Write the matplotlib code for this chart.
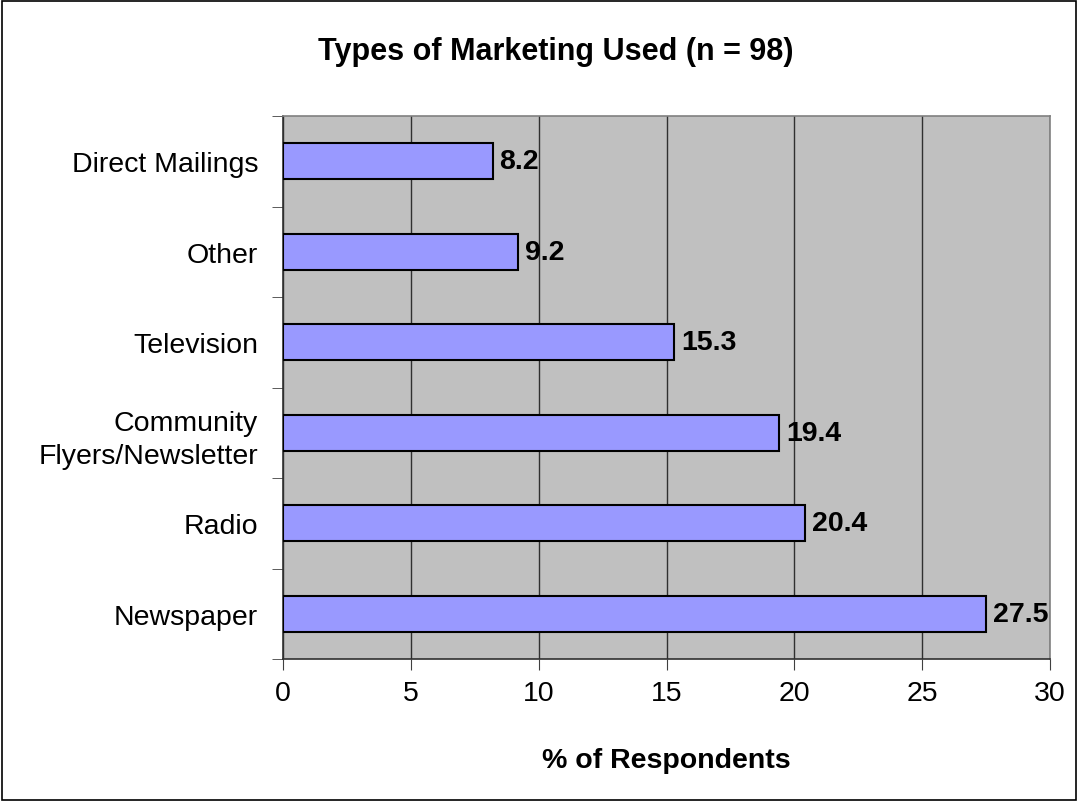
import matplotlib.pyplot as plt
import matplotlib.ticker as tkr
from matplotlib.patches import Rectangle

categories = ["Newspaper", "Radio", "Community\nFlyers/Newsletter", "Television", "Other", "Direct Mailings"]
values = [27.5, 20.4, 19.4, 15.3, 9.2, 8.2]
xticks = [0, 5, 10, 15, 20, 25, 30]

plt.rcParams['font.family'] = ['Liberation Sans', 'DejaVu Sans']

fig = plt.figure(figsize=(10.78, 8.03), dpi=100)
ax = fig.add_axes([283 / 1078, 1 - 660 / 803, (1050 - 283) / 1078, (660 - 117) / 803])

ax.set_facecolor("#C0C0C0")
pos = list(range(len(categories)))
ax.barh(pos, values, height=0.4, color="#9999FF", edgecolor="black", linewidth=1.5, zorder=3)

for p, v in zip(pos, values):
    ax.annotate("%.1f" % v, (v, p), xytext=(5, 0), textcoords="offset points",
                va="center", ha="left", fontsize=20.5, fontweight="bold", zorder=4)

ax.set_xlim(0, 30)
ax.set_ylim(-0.5, len(categories) - 0.5)
ax.set_xticks(xticks)
ax.set_yticks(pos)
ax.set_yticklabels(categories, fontsize=20.5, linespacing=1.35)
ax.yaxis.set_minor_locator(tkr.FixedLocator([p - 0.5 for p in pos] + [len(pos) - 0.5]))
ax.tick_params(axis="y", which="major", length=0, pad=18)
ax.tick_params(axis="y", which="minor", length=8, direction="out", color="#404040")
ax.tick_params(axis="x", length=8, direction="out", labelsize=20.5, pad=7, color="#404040")

ax.grid(True, axis="x", color="#303030", linewidth=1, zorder=0)
ax.set_axisbelow(True)

ax.spines["left"].set_color("#303030")
ax.spines["bottom"].set_color("#303030")
ax.spines["top"].set_color("#808080")
ax.spines["right"].set_color("#808080")
for s in ax.spines.values():
    s.set_linewidth(1.2)

ax.set_xlabel("% of Respondents", fontsize=20.5, fontweight="bold", labelpad=30)
fig.text(556 / 1078, 1 - 52 / 803, "Types of Marketing Used (n = 98)",
         ha="center", va="center", fontsize=22, fontweight="bold")

fig.patches.append(Rectangle((0.002, 0.002), 0.996, 0.996, transform=fig.transFigure,
                             fill=False, edgecolor="black", linewidth=1.2))

plt.savefig("out.png", dpi=100)
